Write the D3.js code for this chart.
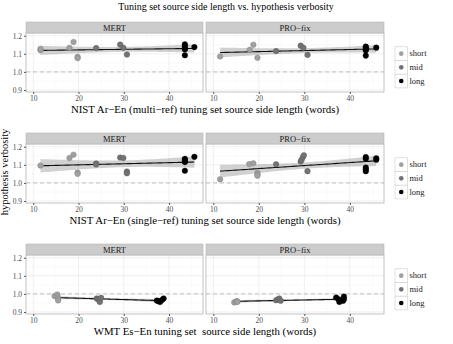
<!DOCTYPE html>
<html>
<head>
<meta charset="utf-8">
<script src="https://cdn.jsdelivr.net/npm/d3@7"></script>
<style>
  body { margin: 0; background: #fff; }
  text { font-family: "Liberation Serif", "DejaVu Serif", serif; }
</style>
</head>
<body>
<div id="chart"></div>
<script>
// tuning sets (one row each) and tuners (one panel each)
const rowTitles = [
  "NIST Ar\u2212En (multi\u2212ref) tuning set source side length (words)",
  "NIST Ar\u2212En (single\u2212ref) tuning set source side length (words)",
  "WMT Es\u2212En tuning set  source side length (words)"
];
const tuners = ["MERT", "PRO\u2212fix"];
const groups = ["short", "mid", "long"];
const groupColors = ["#a0a0a0", "#727272", "#000000"];
const xTicks = [10, 20, 30, 40];
const yTicks = [0.9, 1.0, 1.1, 1.2];

// multi-ref, MERT
const multiMertLen  = [11.6, 11.6, 18, 18.9, 19.8, 19.8, 23.9, 29.2, 29.9, 30.7, 43.5, 43.5, 43.5, 43.5, 43.5, 45.6];
const multiMertVerb = [1.12, 1.128, 1.133, 1.165, 1.083, 1.076, 1.132, 1.151, 1.133, 1.096, 1.152, 1.143, 1.13, 1.125, 1.092, 1.137];
const multiMertGrp  = [0, 0, 0, 0, 0, 0, 1, 1, 1, 1, 2, 2, 2, 2, 2, 2];
// multi-ref, PRO-fix
const multiProLen  = [11.5, 18, 18.8, 19.7, 23.8, 29.2, 29.8, 30.7, 43.5, 43.5, 43.5, 43.5, 43.5, 45.8];
const multiProVerb = [1.085, 1.122, 1.15, 1.078, 1.115, 1.145, 1.133, 1.094, 1.14, 1.135, 1.125, 1.12, 1.09, 1.134];
const multiProGrp  = [0, 0, 0, 0, 1, 1, 1, 1, 2, 2, 2, 2, 2, 2];
// single-ref, MERT
const singleMertLen  = [11.6, 18, 18.9, 19.8, 19.8, 23.9, 23.9, 29.2, 29.9, 30.7, 30.7, 43.5, 43.5, 43.5, 43.5, 43.5, 45.6];
const singleMertVerb = [1.096, 1.138, 1.156, 1.057, 1.05, 1.107, 1.102, 1.14, 1.138, 1.063, 1.053, 1.133, 1.126, 1.12, 1.115, 1.067, 1.144];
const singleMertGrp  = [0, 0, 0, 0, 0, 1, 1, 1, 1, 1, 1, 2, 2, 2, 2, 2, 2];
// single-ref, PRO-fix
const singleProLen  = [11.5, 17.9, 18.8, 19.7, 19.7, 19.7, 23.8, 29.2, 29.4, 29.7, 29.9, 30.7, 43.5, 43.5, 43.5, 43.5, 43.5, 45.8, 45.8];
const singleProVerb = [1.02, 1.104, 1.109, 1.056, 1.047, 1.04, 1.103, 1.118, 1.128, 1.143, 1.153, 1.065, 1.143, 1.133, 1.085, 1.075, 1.065, 1.136, 1.128];
const singleProGrp  = [0, 0, 0, 0, 0, 0, 1, 1, 1, 1, 1, 1, 2, 2, 2, 2, 2, 2, 2];
// WMT, MERT
const wmtMertLen  = [14.7, 15.3, 15.4, 15.5, 15.5, 24.0, 24.3, 24.5, 24.7, 25.0, 37.3, 37.7, 38.0, 38.5, 38.8];
const wmtMertVerb = [0.988, 0.997, 0.985, 0.974, 0.964, 0.975, 0.972, 0.968, 0.955, 0.978, 0.963, 0.96, 0.955, 0.968, 0.975];
const wmtMertGrp  = [0, 0, 0, 0, 0, 1, 1, 1, 1, 1, 2, 2, 2, 2, 2];
// WMT, PRO-fix
const wmtProLen  = [14.6, 15.0, 15.2, 15.3, 23.8, 24.2, 24.5, 24.8, 37.0, 37.5, 37.7, 38.0, 38.5, 38.7, 38.7];
const wmtProVerb = [0.953, 0.958, 0.96, 0.955, 0.965, 0.97, 0.975, 0.962, 0.98, 0.97, 0.955, 0.965, 0.962, 0.985, 0.97];
const wmtProGrp  = [0, 0, 0, 0, 1, 1, 1, 1, 2, 2, 2, 2, 2, 2, 2];

const panels = [
  [[multiMertLen, multiMertVerb, multiMertGrp], [multiProLen, multiProVerb, multiProGrp]],
  [[singleMertLen, singleMertVerb, singleMertGrp], [singleProLen, singleProVerb, singleProGrp]],
  [[wmtMertLen, wmtMertVerb, wmtMertGrp], [wmtProLen, wmtProVerb, wmtProGrp]]
];

const W = 453, H = 344;
const rowTops = [22, 133, 244];
const panelX = [[26, 203], [206, 384]];
const stripH = 11, panelH = 59;
const serif = "Liberation Serif, DejaVu Serif, serif";

const svg = d3.select("#chart").append("svg")
    .attr("width", W).attr("height", H);

// title
svg.append("text")
    .attr("x", 226).attr("y", 10)
    .attr("text-anchor", "middle")
    .attr("font-size", 10)
    .text("Tuning set source side length vs. hypothesis verbosity");

// y axis label
svg.append("text")
    .attr("transform", "translate(8,172) rotate(-90)")
    .attr("text-anchor", "middle")
    .attr("font-size", 10.5)
    .text("hypothesis verbosity");

// linear fit with 95% band, like geom_smooth(method = "lm")
const fitLine = (xs, ys) => {
  const n = xs.length;
  const mx = d3.mean(xs), my = d3.mean(ys);
  let sxx = 0, sxy = 0;
  for (let i = 0; i < n; i++) {
    sxx += (xs[i] - mx) * (xs[i] - mx);
    sxy += (xs[i] - mx) * (ys[i] - my);
  }
  const b = sxy / sxx, a = my - b * mx;
  let sse = 0;
  for (let i = 0; i < n; i++) sse += Math.pow(ys[i] - (a + b * xs[i]), 2);
  const s = Math.sqrt(sse / (n - 2));
  const t = 1.96 + 2.4 / (n - 2);
  const ext = d3.extent(xs);
  const pts = [];
  for (let k = 0; k <= 60; k++) {
    const x = ext[0] + (ext[1] - ext[0]) * k / 60;
    const se = s * Math.sqrt(1 / n + (x - mx) * (x - mx) / sxx);
    const y = a + b * x;
    pts.push({x: x, y: y, lo: y - t * se, hi: y + t * se});
  }
  return pts;
};

rowTops.forEach((T, r) => {
  const y = d3.scaleLinear().domain([0.889, 1.215]).range([T + stripH + panelH, T + stripH]);

  tuners.forEach((name, c) => {
    const [x0, x1] = panelX[c];
    const x = d3.scaleLinear().domain([8.4, 47.5]).range([x0, x1]);
    const [lens, verbs, grps] = panels[r][c];
    const g = svg.append("g");

    // panel background
    g.append("rect")
        .attr("x", x0).attr("y", T + stripH)
        .attr("width", x1 - x0).attr("height", panelH)
        .attr("fill", "#fff");

    // grid
    const minorX = [15, 25, 35, 45], minorY = [0.95, 1.05, 1.15];
    g.selectAll(".mx").data(minorX).enter().append("line")
        .attr("x1", d => x(d)).attr("x2", d => x(d))
        .attr("y1", T + stripH).attr("y2", T + stripH + panelH)
        .attr("stroke", "#f5f5f5").attr("stroke-width", 0.5);
    g.selectAll(".my").data(minorY).enter().append("line")
        .attr("x1", x0).attr("x2", x1)
        .attr("y1", d => y(d)).attr("y2", d => y(d))
        .attr("stroke", "#f5f5f5").attr("stroke-width", 0.5);
    g.selectAll(".gx").data(xTicks).enter().append("line")
        .attr("x1", d => x(d)).attr("x2", d => x(d))
        .attr("y1", T + stripH).attr("y2", T + stripH + panelH)
        .attr("stroke", "#ebebeb").attr("stroke-width", 0.8);
    g.selectAll(".gy").data(yTicks).enter().append("line")
        .attr("x1", x0).attr("x2", x1)
        .attr("y1", d => y(d)).attr("y2", d => y(d))
        .attr("stroke", "#ebebeb").attr("stroke-width", 0.8);

    // reference at 1.0
    g.append("line")
        .attr("x1", x0).attr("x2", x1)
        .attr("y1", y(1)).attr("y2", y(1))
        .attr("stroke", "#b3b3b3").attr("stroke-width", 0.8)
        .attr("stroke-dasharray", "4,3");

    // smooth
    const fit = fitLine(lens, verbs);
    g.append("path")
        .datum(fit)
        .attr("fill", "#999").attr("fill-opacity", 0.45)
        .attr("d", d3.area().x(d => x(d.x)).y0(d => y(d.lo)).y1(d => y(d.hi)));
    g.append("path")
        .datum(fit)
        .attr("fill", "none").attr("stroke", "#111").attr("stroke-width", 1.1)
        .attr("d", d3.line().x(d => x(d.x)).y(d => y(d.y)));

    // points
    g.selectAll("circle").data(lens).enter().append("circle")
        .attr("cx", d => x(d))
        .attr("cy", (d, i) => y(verbs[i]))
        .attr("r", 2.8)
        .attr("fill", (d, i) => groupColors[grps[i]])
        .attr("stroke", (d, i) => d3.color(groupColors[grps[i]]).darker(0.6))
        .attr("stroke-width", 0.4);

    // border
    g.append("rect")
        .attr("x", x0).attr("y", T + stripH)
        .attr("width", x1 - x0).attr("height", panelH)
        .attr("fill", "none").attr("stroke", "#b5b5b5").attr("stroke-width", 0.8);

    // strip
    g.append("rect")
        .attr("x", x0).attr("y", T)
        .attr("width", x1 - x0).attr("height", stripH)
        .attr("fill", "#cccccc").attr("stroke", "#b5b5b5").attr("stroke-width", 0.6);
    g.append("text")
        .attr("x", (x0 + x1) / 2).attr("y", T + 8.5)
        .attr("text-anchor", "middle").attr("font-size", 8.5)
        .attr("fill", "#1a1a1a")
        .text(name);

    // x axis
    const xa = g.append("g")
        .attr("transform", "translate(0," + (T + stripH + panelH) + ")")
        .call(d3.axisBottom(x).tickValues(xTicks).tickSize(2).tickPadding(2));
    xa.select(".domain").remove();
    xa.selectAll("line").attr("stroke", "#555");
    xa.selectAll("text").attr("font-size", 7.5).attr("fill", "#4d4d4d")
        .attr("font-family", serif);

    // y axis on the left panel only
    if (c === 0) {
      const ya = g.append("g")
          .attr("transform", "translate(" + x0 + ",0)")
          .call(d3.axisLeft(y).tickValues(yTicks).tickFormat(d3.format(".1f")).tickSize(2).tickPadding(2));
      ya.select(".domain").remove();
      ya.selectAll("line").attr("stroke", "#555");
      ya.selectAll("text").attr("font-size", 7.5).attr("fill", "#4d4d4d")
          .attr("font-family", serif);
    }
  });

  // x axis title
  svg.append("text")
      .attr("x", 205).attr("y", T + 90.5)
      .attr("text-anchor", "middle").attr("font-size", 10.8)
      .style("white-space", "pre")
      .text(rowTitles[r]);

  // legend
  const lg = svg.append("g").attr("transform", "translate(395," + (T + 24.8) + ")");
  groups.forEach((name, i) => {
    lg.append("rect")
        .attr("x", 0).attr("y", i * 13.7)
        .attr("width", 12.5).attr("height", 13.7)
        .attr("fill", "#fff").attr("stroke", "#cccccc").attr("stroke-width", 0.6);
    lg.append("circle")
        .attr("cx", 6.25).attr("cy", i * 13.7 + 6.85)
        .attr("r", 2.3).attr("fill", groupColors[i]);
    lg.append("text")
        .attr("x", 14.5).attr("y", i * 13.7 + 9.5)
        .attr("font-size", 8.5).attr("fill", "#1a1a1a")
        .text(name);
  });
});
</script>
</body>
</html>
